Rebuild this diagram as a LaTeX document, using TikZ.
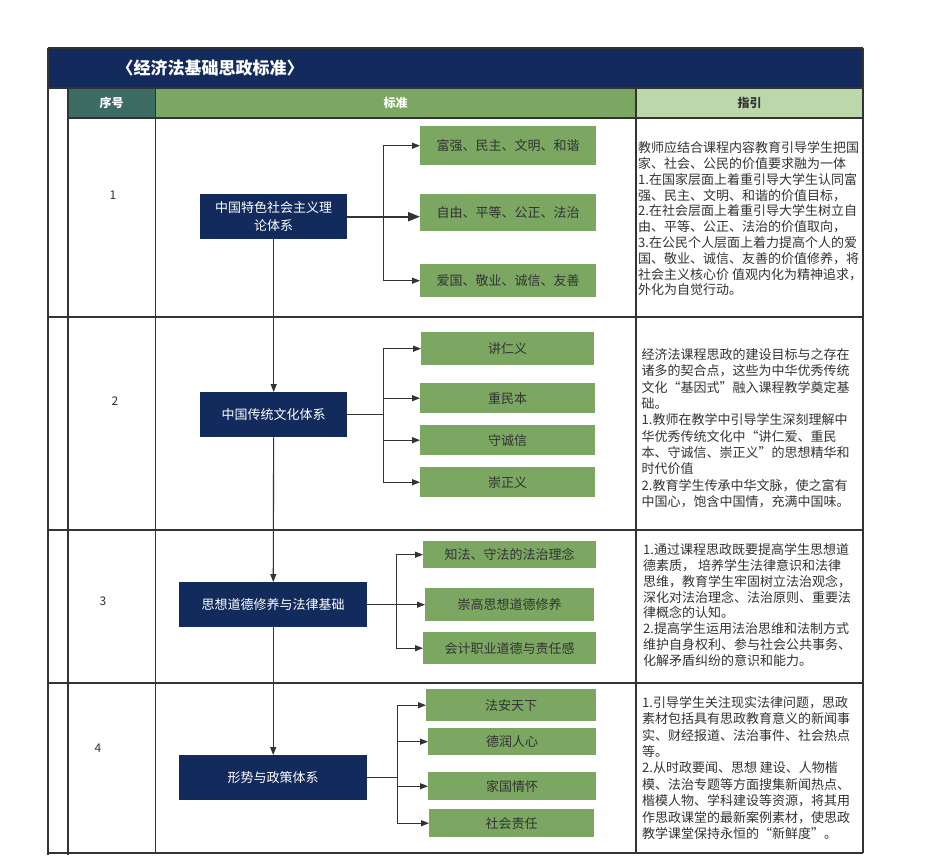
\documentclass[tikz,border=0pt]{standalone}
\usepackage{fontspec}
\usepackage{tikz}
\usetikzlibrary{arrows.meta}
\newfontfamily\cjk{Noto Sans CJK SC}
\definecolor{jjfnavy}{HTML}{132B5C}
\definecolor{jjfteal}{HTML}{3C6C64}
\definecolor{jjfgreen}{HTML}{7BA762}
\definecolor{jjflight}{HTML}{BCD8AB}
\definecolor{jjfgray}{HTML}{333333}

\begin{document}
\begin{tikzpicture}[x=1pt,y=-1pt,
  topic/.style={fill=jjfnavy,text=white,font=\cjk\fontsize{13}{17.5}\selectfont,align=center,anchor=north west,inner sep=0pt},
  item/.style={fill=jjfgreen,text=jjfgray,font=\cjk\fontsize{13}{16}\selectfont,anchor=north west,inner sep=0pt},
  guide/.style={text=jjfgray,align=left,anchor=north west,inner sep=0pt},
  num/.style={text=jjfgray,font=\cjk\fontsize{12}{14}\selectfont},
  head/.style={font=\cjk\bfseries\fontsize{12}{14}\selectfont},
  arr/.style={draw=jjfgray,line width=1.1pt,-{Triangle[length=8pt,width=6pt]}},
  rule/.style={draw=jjfgray,line width=1.5pt}]
  \useasboundingbox[fill=white] (0,0) rectangle (945,855);
  \fill[jjfnavy] (48,48) rectangle (863,88);
  \fill[jjfteal] (68,88) rectangle (155,118);
  \fill[jjfgreen] (155,88) rectangle (636,118);
  \fill[jjflight] (636,88) rectangle (863,118);
  \node[anchor=west,text=white,font=\cjk\bfseries\fontsize{17}{20}\selectfont] (title) at (113,68) {〈经济法基础思政标准〉};
  \node[head,text=white] (hnum) at (111.5,103) {序号};
  \node[head,text=white] (hstd) at (395.5,103) {标准};
  \node[head,text=jjfgray] (hguide) at (749.5,103) {指引};

  \draw[rule] (48,88) -- (863,88);
  \draw[rule] (68,118) -- (863,118);
  \foreach \y in {317,530,683,853}
    \draw[rule] (48,\y) -- (863,\y);
  \draw[rule] (48,48) -- (48,855);
  \draw[rule,line width=2pt] (68,88) -- (68,855);
  \draw[draw=jjfgray,line width=0.8pt] (155,88) -- (155,853);
  \draw[rule,line width=1.2pt] (636,88) -- (636,853);
  \draw[rule] (863,48) -- (863,853);
  \draw[rule] (48,48) -- (863,48);

  \node[num] (n1) at (113,195) {1};
  \node[num] (n2) at (115,401) {2};
  \node[num] (n3) at (103,601) {3};
  \node[num] (n4) at (98,748) {4};

  \node[topic,minimum width=147pt,minimum height=45pt] (t1) at (200,194) {中国特色社会主义理\\论体系};
  \node[topic,minimum width=147pt,minimum height=45pt] (t2) at (200,392) {中国传统文化体系};
  \node[topic,minimum width=188pt,minimum height=45pt] (t3) at (179,582) {思想道德修养与法律基础};
  \node[topic,minimum width=188pt,minimum height=45pt] (t4) at (179,755) {形势与政策体系};

  \node[item,minimum width=176pt,minimum height=39pt] (g11) at (420,126) {富强、民主、文明、和谐};
  \node[item,minimum width=176pt,minimum height=37pt] (g12) at (420,194) {自由、平等、公正、法治};
  \node[item,minimum width=176pt,minimum height=33pt] (g13) at (420,264) {爱国、敬业、诚信、友善};
  \node[item,minimum width=173pt,minimum height=33pt] (g21) at (421,332) {讲仁义};
  \node[item,minimum width=175pt,minimum height=30pt] (g22) at (420,383) {重民本};
  \node[item,minimum width=175pt,minimum height=30pt] (g23) at (420,425) {守诚信};
  \node[item,minimum width=175pt,minimum height=30pt] (g24) at (420,467) {崇正义};
  \node[item,minimum width=173pt,minimum height=27pt] (g31) at (423,541) {知法、守法的法治理念};
  \node[item,minimum width=169pt,minimum height=33pt] (g32) at (425,588) {崇高思想道德修养};
  \node[item,minimum width=173pt,minimum height=32pt] (g33) at (423,632) {会计职业道德与责任感};
  \node[item,minimum width=170pt,minimum height=32pt] (g41) at (426,689) {法安天下};
  \node[item,minimum width=168pt,minimum height=27pt] (g42) at (428,728) {德润人心};
  \node[item,minimum width=168pt,minimum height=28pt] (g43) at (428,772) {家国情怀};
  \node[item,minimum width=165pt,minimum height=28pt] (g44) at (429,809) {社会责任};

  \foreach \g in {g11,g13}
    \draw[arr] (t1.east) -- ++(36.5,0) |- (\g.west);
  \draw[draw=jjfgray,line width=2pt,-{Triangle[length=12pt,width=9pt]}] (t1.east) -- (t1.east -| g12.west);
  \foreach \g in {g21,g22,g23,g24}
    \draw[arr] (t2.east) -- ++(36.5,0) |- (\g.west);
  \foreach \g in {g31,g32,g33}
    \draw[arr] (t3.east) -- ++(29,0) |- (\g.west);
  \foreach \g in {g41,g42,g43,g44}
    \draw[arr] (t4.east) -- ++(30,0) |- (\g.west);
  \draw[arr] (t1) -- (t2);
  \draw[arr] (t2) -- (t3);
  \draw[arr] (t3) -- (t4);

  \node[guide,font=\cjk\fontsize{13}{15.8}\selectfont] (d1) at (638,141.5) {教师应结合课程内容教育引导学生把国\\家、社会、公民的价值要求融为一体\\1.在国家层面上着重引导大学生认同富\\强、民主、文明、和谐的价值目标，\\2.在社会层面上着重引导大学生树立自\\由、平等、公正、法治的价值取向，\\3.在公民个人层面上着力提高个人的爱\\国、敬业、诚信、友善的价值修养，将\\社会主义核心价 值观内化为精神追求，\\外化为自觉行动。};
  \node[guide,font=\cjk\fontsize{13}{16.3}\selectfont] (d2) at (641.5,348.5) {经济法课程思政的建设目标与之存在\\诸多的契合点，这些为中华优秀传统\\文化“基因式”融入课程教学奠定基\\础。\\1.教师在教学中引导学生深刻理解中\\华优秀传统文化中“讲仁爱、重民\\本、守诚信、崇正义”的思想精华和\\时代价值\\2.教育学生传承中华文脉，使之富有\\中国心，饱含中国情，充满中国味。};
  \node[guide,font=\cjk\fontsize{13}{15.8}\selectfont] (d3) at (643,543.5) {1.通过课程思政既要提高学生思想道\\德素质， 培养学生法律意识和法律\\思维，教育学生牢固树立法治观念，\\深化对法治理念、法治原则、重要法\\律概念的认知。\\2.提高学生运用法治思维和法制方式\\维护自身权利、参与社会公共事务、\\化解矛盾纠纷的意识和能力。};
  \node[guide,font=\cjk\fontsize{13}{16.4}\selectfont] (d4) at (642,696) {1.引导学生关注现实法律问题，思政\\素材包括具有思政教育意义的新闻事\\实、财经报道、法治事件、社会热点\\等。\\2.从时政要闻、思想 建设、人物楷\\模、法治专题等方面搜集新闻热点、\\楷模人物、学科建设等资源，将其用\\作思政课堂的最新案例素材，使思政\\教学课堂保持永恒的“新鲜度”。};
\end{tikzpicture}
\end{document}
